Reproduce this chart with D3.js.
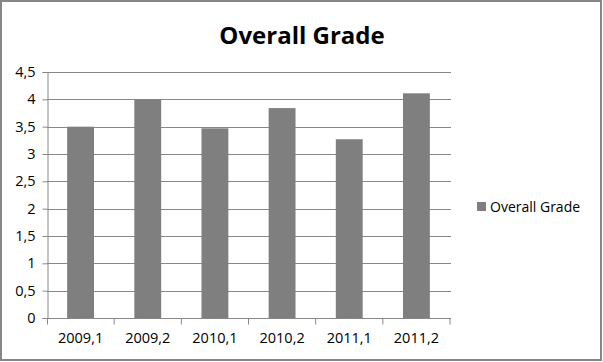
<!DOCTYPE html>
<html>
<head>
<meta charset="utf-8">
<script src="https://cdn.jsdelivr.net/npm/d3@7"></script>
<style>
  body { margin: 0; background: #fff; }
  text { font-family: "Open Sans", "DejaVu Sans", sans-serif; }
</style>
</head>
<body>
<div id="chart"></div>
<script>
// data
var semesters = ["2009,1", "2009,2", "2010,1", "2010,2", "2011,1", "2011,2"];
var grades = [3.5, 4.0, 3.47, 3.84, 3.27, 4.11];
var yTicks = [0, 0.5, 1, 1.5, 2, 2.5, 3, 3.5, 4, 4.5];
var seriesName = "Overall Grade";

var width = 603, height = 362;
var plotLeft = 47, plotRight = 450, plotTop = 72, plotBottom = 318;

var svg = d3.select('#chart')
  .append('svg')
  .attr('width', width)
  .attr('height', height);

// outer frame
svg.append('rect')
  .attr('x', 1).attr('y', 1)
  .attr('width', width - 3).attr('height', height - 3)
  .attr('fill', '#fff')
  .attr('stroke', '#868686')
  .attr('stroke-width', 2);

var x = d3.scaleBand().domain(semesters).range([plotLeft, plotRight]).padding(0);
var y = d3.scaleLinear().domain([0, 4.5]).range([plotBottom, plotTop]);

// gridlines
svg.append('g')
  .selectAll('line')
  .data(yTicks.slice(1))
  .enter()
  .append('line')
  .attr('x1', plotLeft).attr('x2', plotRight + 1)
  .attr('y1', function(d) { return Math.round(y(d)) + 0.5; })
  .attr('y2', function(d) { return Math.round(y(d)) + 0.5; })
  .attr('stroke', '#888')
  .attr('stroke-width', 1);

// bars
var barW = x.bandwidth() * 0.4;
svg.append('g')
  .selectAll('rect')
  .data(grades)
  .enter()
  .append('rect')
  .attr('x', function(d, i) { return x(semesters[i]) + (x.bandwidth() - barW) / 2; })
  .attr('y', function(d) { return y(d); })
  .attr('width', barW)
  .attr('height', function(d) { return y(0) - y(d); })
  .attr('fill', '#7f7f7f');

// y axis
var yAxis = svg.append('g')
  .attr('transform', 'translate(' + (plotLeft + 0.5) + ',0)')
  .call(d3.axisLeft(y).tickValues(yTicks).tickSize(5).tickPadding(7)
    .tickFormat(function(d) { return String(d).replace('.', ','); }));

// x axis
var xAxis = svg.append('g')
  .attr('transform', 'translate(0,' + (plotBottom + 0.5) + ')')
  .call(d3.axisBottom(x).tickSize(0).tickPadding(14));

xAxis.selectAll('.tick')
  .append('line')
  .attr('x1', x.bandwidth() / 2).attr('x2', x.bandwidth() / 2)
  .attr('y1', 0).attr('y2', 6)
  .attr('stroke', '#888');
xAxis.append('line')
  .attr('x1', plotLeft + 0.5).attr('x2', plotLeft + 0.5)
  .attr('y1', 0).attr('y2', 6)
  .attr('stroke', '#888');

[yAxis, xAxis].forEach(function(a) {
  a.select('.domain').attr('stroke', '#888');
  a.selectAll('.tick line').attr('stroke', '#888');
  a.selectAll('text')
    .attr('fill', '#000')
    .style('font-size', '14.5px')
    .style('font-family', '"Open Sans", sans-serif');
});
xAxis.select('.domain').attr('d', 'M' + plotLeft + ',0H' + (plotRight + 1));

// title
svg.append('text')
  .attr('x', 302)
  .attr('y', 44)
  .attr('text-anchor', 'middle')
  .style('font-size', '24px')
  .style('font-weight', 'bold')
  .text(seriesName);

// legend
var legend = svg.append('g').attr('transform', 'translate(477,202)');
legend.append('rect')
  .attr('width', 9).attr('height', 9)
  .attr('fill', '#7f7f7f');
legend.append('text')
  .attr('x', 13)
  .attr('y', 9.5)
  .style('font-size', '14px')
  .text(seriesName);
</script>
</body>
</html>
